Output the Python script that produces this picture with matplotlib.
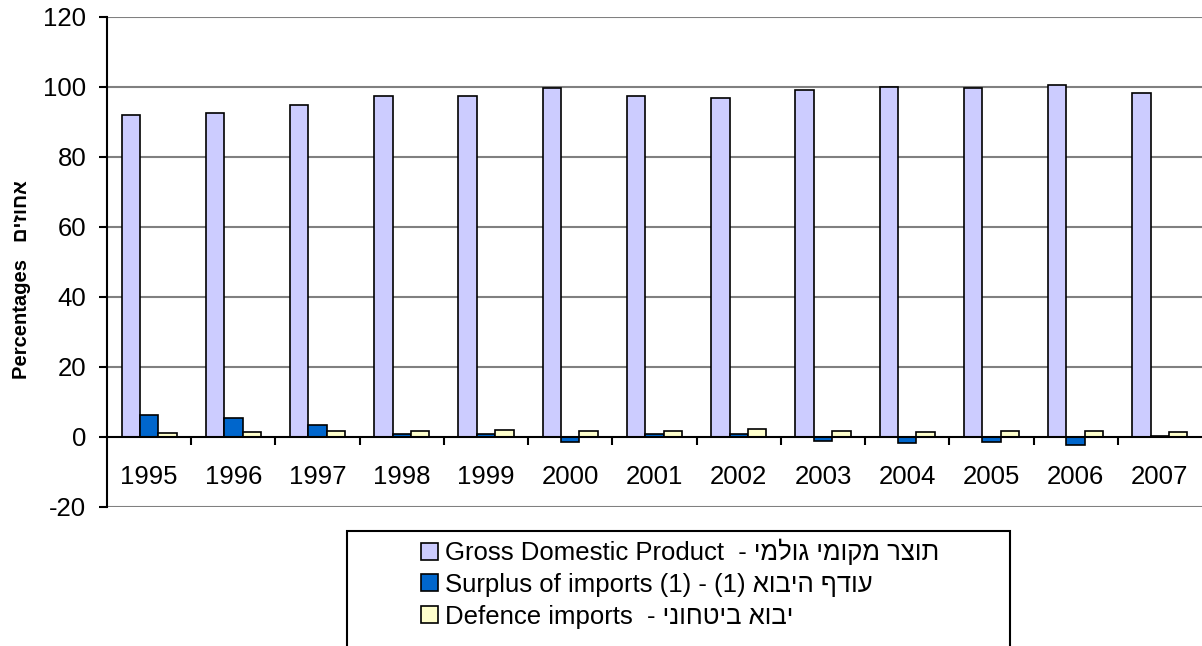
import numpy as np
import matplotlib
matplotlib.use('Agg')
import matplotlib.pyplot as plt
from matplotlib.patches import Rectangle, Patch

plt.rcParams['font.family'] = ['Liberation Sans', 'DejaVu Sans']
plt.rcParams['axes.unicode_minus'] = False

# data
years = ['1995', '1996', '1997', '1998', '1999', '2000', '2001',
         '2002', '2003', '2004', '2005', '2006', '2007']
gdp = [92.0, 92.6, 95.0, 97.3, 97.3, 99.6, 97.5, 97.0, 99.2, 100.1, 99.7, 100.5, 98.3]
surplus = [6.3, 5.5, 3.3, 0.9, 0.9, -1.4, 0.8, 1.0, -1.1, -1.7, -1.5, -2.3, 0.2]
defence = [1.2, 1.4, 1.6, 1.7, 1.9, 1.6, 1.8, 2.2, 1.8, 1.5, 1.8, 1.8, 1.5]
y_ticks = [-20, 0, 20, 40, 60, 80, 100, 120]

# Hebrew is written in visual (left-to-right) order, matplotlib does no bidi
labels = [
    'Gross Domestic Product  - ' + 'תוצר מקומי גולמי'[::-1],
    'Surplus of imports (1) - (1) ' + 'היבוא'[::-1] + ' ' + 'עודף'[::-1],
    'Defence imports  - ' + 'יבוא ביטחוני'[::-1],
]
colors = ['#CCCCFF', '#0066CC', '#FFFFCC']

W, H = 1202, 646
fs = 18.5
fig = plt.figure(figsize=(W / 100, H / 100), dpi=100)
ax = fig.add_axes([107 / W, (H - 507) / H, 1095 / W, 490 / H])

x = np.arange(len(years))
w = 0.218
for off, vals, c in zip([-w, 0, w], [gdp, surplus, defence], colors):
    ax.bar(x + off, vals, width=w, color=c, edgecolor='black', linewidth=1.2, zorder=3)

ax.set_xlim(-0.5, len(years) - 0.5)
ax.set_ylim(-20, 120)

# gridlines
for t in y_ticks:
    if t != 0:
        ax.axhline(t, color='#808080', linewidth=1.5, zorder=1)

for s in ['top', 'right']:
    ax.spines[s].set_visible(False)
ax.spines['left'].set_linewidth(1.5)
ax.spines['bottom'].set_position(('data', 0))
ax.spines['bottom'].set_linewidth(1.5)
ax.spines['bottom'].set_zorder(4)

ax.set_yticks(y_ticks)
ax.tick_params(axis='y', labelsize=fs, length=6, width=1.5, pad=9)
ax.set_xticks(x)
ax.set_xticklabels(years)
ax.tick_params(axis='x', which='major', length=0, labelsize=fs, pad=20)
ax.set_xticks(np.arange(0.5, len(years) - 0.5, 1), minor=True)
ax.tick_params(axis='x', which='minor', length=6, width=1.5, direction='out')

fig.text(22 / W, 1 - 280 / H, 'Percentages   ' + 'אחוזים'[::-1], rotation=90,
         ha='center', va='center', fontsize=14.5, fontweight='bold')

# legend box (cut off by the bottom of the image)
fig.patches.append(Rectangle((347 / W, -0.1), (1010 - 347) / W, 0.1 + (H - 531) / H,
                             transform=fig.transFigure, facecolor='white',
                             edgecolor='black', linewidth=1.5))
handles = [Patch(facecolor=c, edgecolor='black', linewidth=1.2) for c in colors]
fig.legend(handles, labels, loc='upper left', bbox_to_anchor=(408 / W, 1 - 526 / H),
           frameon=False, fontsize=fs, handlelength=0.65, handleheight=0.65,
           handletextpad=0.3, labelspacing=0.3, borderpad=0)

fig.savefig('out.png', dpi=100)
